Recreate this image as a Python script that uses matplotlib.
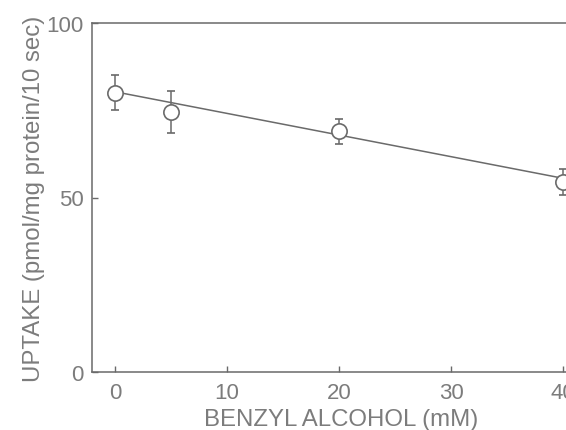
#!/usr/bin/env python3

from matplotlib import pyplot as plt

# data
conc = [0, 5, 20, 40]            # benzyl alcohol (mM)
uptake = [80, 74.5, 69, 54.5]    # pmol/mg protein/10 sec
err = [5, 6, 3.6, 3.7]

# fitted line endpoints as drawn
line_x = [0, 40]
line_y = [80.3, 55.5]

ticks_x = [0, 10, 20, 30, 40]
ticks_y = [0, 50, 100]

gray = '#7c7c7c'
dark = '#6a6a6a'

plt.rcParams['font.family'] = ['Liberation Sans', 'DejaVu Sans']

# setting up the plot
fig = plt.figure(dpi=100, figsize=(5.66, 4.31))
W, H = 566, 431
left, right, top, bottom = 92, 590, 24, 373
ax = fig.add_axes([left / W, 1 - bottom / H, (right - left) / W, (bottom - top) / H])

ax.plot(line_x, line_y, color=dark, lw=1.1, zorder=2)
ax.errorbar(conc, uptake, yerr=err, fmt='o', ms=11, mfc='white', mec=dark, mew=1.2,
            ecolor=dark, elinewidth=1.1, capsize=3.2, capthick=1.1, zorder=3)

ax.set_xlim(-2.05, 42.4)
ax.set_ylim(0, 100)
ax.set_xticks(ticks_x)
ax.set_yticks(ticks_y)

for side in ['left', 'bottom', 'top', 'right']:
    ax.spines[side].set_color(dark)
    ax.spines[side].set_linewidth(1.1)

ax.tick_params(direction='in', length=4, width=1, colors=dark, labelcolor=gray,
               labelsize=16)
ax.tick_params(axis='x', pad=7)
ax.tick_params(axis='y', pad=6)

ax.set_xlabel('BENZYL ALCOHOL (mM)', fontsize=17.3, color=gray, labelpad=4)
ax.set_ylabel('UPTAKE (pmol/mg protein/10 sec)', fontsize=17.3, color=gray, labelpad=1)

fig.savefig('out.png', dpi=100)
